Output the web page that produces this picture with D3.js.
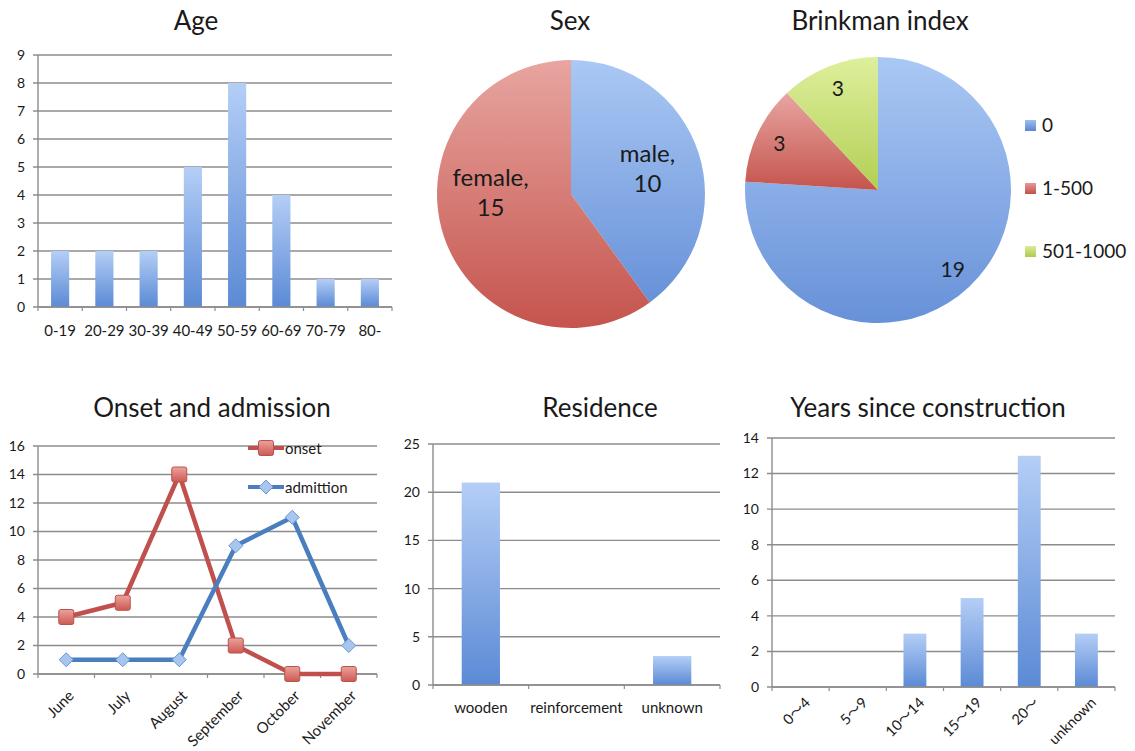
<!DOCTYPE html>
<html>
<head>
<meta charset="utf-8">
<script src="https://cdn.jsdelivr.net/npm/d3@7"></script>
<style>
  html, body { margin: 0; padding: 0; background: #fff; }
  svg { display: block; font-family: Lato, "Open Sans", "Noto Sans", "Noto Sans CJK JP", sans-serif; }
</style>
</head>
<body>
<svg id="chart" width="1135" height="751"></svg>
<script>
// ---- data ----
const ageCategories = ["0-19", "20-29", "30-39", "40-49", "50-59", "60-69", "70-79", "80-"];
const ageCounts = [2, 2, 2, 5, 8, 4, 1, 1];
const ageTicks = [0, 1, 2, 3, 4, 5, 6, 7, 8, 9];

const sexLabels = ["male", "female"];
const sexCounts = [10, 15];

const brinkmanLabels = ["0", "1-500", "501-1000"];
const brinkmanCounts = [19, 3, 3];

const months = ["June", "July", "August", "September", "October", "November"];
const onsetCounts = [4, 5, 14, 2, 0, 0];
const admissionCounts = [1, 1, 1, 9, 11, 2];
const monthTicks = [0, 2, 4, 6, 8, 10, 12, 14, 16];

const residenceCategories = ["wooden", "reinforcement", "unknown"];
const residenceCounts = [21, 0, 3];
const residenceTicks = [0, 5, 10, 15, 20, 25];

const yearsCategories = ["0\u301C4", "5\u301C9", "10\u301C14", "15\u301C19", "20\u301C", "unknown"];
const yearsCounts = [0, 0, 3, 5, 13, 3];
const yearsTicks = [0, 2, 4, 6, 8, 10, 12, 14];

// ---- setup ----
const svg = d3.select("#chart");
const defs = svg.append("defs");

function vGrad(id, top, bottom) {
  const g = defs.append("linearGradient").attr("id", id)
    .attr("x1", 0).attr("y1", 0).attr("x2", 0).attr("y2", 1);
  g.append("stop").attr("offset", "0%").attr("stop-color", top);
  g.append("stop").attr("offset", "100%").attr("stop-color", bottom);
}
vGrad("barBlue", "#b4cef6", "#5b8ad5");
vGrad("pieBlue", "#aac8f4", "#6791d8");
vGrad("pieRed", "#e8a5a1", "#c5544d");
vGrad("pieGreen", "#deef9c", "#b2cf55");
vGrad("sqRed", "#eca29d", "#cc5a53");
vGrad("legBlue", "#9fbff0", "#5b86cf");
vGrad("legRed", "#e99893", "#c24f49");
vGrad("legGreen", "#d9ec95", "#aeca52");

const gridColor = "#8c8c8c";
const textColor = "#1a1a1a";
const tickFont = 14;
const catFont = 15;

function title(x, y, text) {
  svg.append("text").attr("x", x).attr("y", y)
    .attr("text-anchor", "middle").attr("font-size", 26)
    .attr("fill", textColor).text(text);
}

// y axis with gridlines running across the plot
function drawYAxis(g, y, ticks, x0, x1) {
  g.append("g").selectAll("line").data(ticks).join("line")
    .attr("x1", x0 - 5).attr("x2", x1)
    .attr("y1", d => y(d)).attr("y2", d => y(d))
    .attr("stroke", gridColor).attr("stroke-width", 1.4);
  g.append("line").attr("x1", x0).attr("x2", x0)
    .attr("y1", y(ticks[ticks.length - 1])).attr("y2", y(0))
    .attr("stroke", gridColor).attr("stroke-width", 1.4);
  g.append("g").selectAll("text").data(ticks).join("text")
    .attr("x", x0 - 13).attr("y", d => y(d))
    .attr("dy", "0.35em").attr("text-anchor", "end")
    .attr("font-size", tickFont).attr("fill", textColor)
    .text(d => d);
}

// x axis: baseline with small ticks at category boundaries
function drawXBase(g, x0, x1, yBase, n) {
  g.append("line").attr("x1", x0).attr("x2", x1)
    .attr("y1", yBase).attr("y2", yBase)
    .attr("stroke", gridColor).attr("stroke-width", 1.4);
  const step = (x1 - x0) / n;
  g.append("g").selectAll("line").data(d3.range(n + 1)).join("line")
    .attr("x1", i => x0 + i * step).attr("x2", i => x0 + i * step)
    .attr("y1", yBase).attr("y2", yBase + 4)
    .attr("stroke", gridColor).attr("stroke-width", 1.2);
}

function barChart(opts) {
  const { cats, vals, ticks, x0, x1, yBase, yTop, padding, rotate, labelY } = opts;
  const g = svg.append("g");
  const x = d3.scaleBand().domain(cats).range([x0, x1]).paddingInner(padding).paddingOuter(padding / 2);
  const y = d3.scaleLinear().domain([0, ticks[ticks.length - 1]]).range([yBase, yTop]);
  drawYAxis(g, y, ticks, x0, x1);
  g.append("g").selectAll("rect").data(cats).join("rect")
    .attr("x", d => x(d)).attr("width", x.bandwidth())
    .attr("y", (d, i) => y(vals[i])).attr("height", (d, i) => yBase - y(vals[i]))
    .attr("fill", "url(#barBlue)");
  drawXBase(g, x0, x1, yBase, cats.length);
  const lab = g.append("g").selectAll("text").data(cats).join("text")
    .attr("fill", textColor).text(d => d);
  if (rotate) {
    lab.attr("text-anchor", "end").attr("font-size", 14.5)
      .attr("transform", d => `translate(${x(d) + x.bandwidth() / 2 + 7},${yBase + 13}) rotate(-45)`)
      .attr("dy", "0.35em");
  } else {
    lab.attr("text-anchor", "middle").attr("font-size", catFont)
      .attr("x", d => x(d) + x.bandwidth() / 2).attr("y", labelY).attr("dy", "0.35em");
  }
}

// ---- Age ----
title(196, 30, "Age");
barChart({ cats: ageCategories, vals: ageCounts, ticks: ageTicks,
  x0: 38, x1: 392, yBase: 307, yTop: 55, padding: 0.59, labelY: 331 });

// ---- Sex ----
title(570, 30, "Sex");
{
  const cx = 571, cy = 194, r = 134;
  const pie = d3.pie().sort(null).value(d => d)(sexCounts);
  const arc = d3.arc().innerRadius(0).outerRadius(r);
  const fills = ["url(#pieBlue)", "url(#pieRed)"];
  const g = svg.append("g").attr("transform", `translate(${cx},${cy})`);
  g.selectAll("path").data(pie).join("path")
    .attr("d", arc).attr("fill", (d, i) => fills[i]);
  // label placement: slice centroid, with the larger slice's label pulled toward horizontal
  const labelArc = d3.arc().innerRadius(r * 0.6).outerRadius(r * 0.6);
  const labelTilt = [0, 0.33];
  g.selectAll("text").data(pie).join("text")
    .attr("transform", (d, i) => {
      const a = (d.startAngle + d.endAngle) / 2 + labelTilt[i];
      const [lx, ly] = labelArc.centroid({ startAngle: a, endAngle: a });
      return `translate(${lx},${ly})`;
    })
    .attr("text-anchor", "middle").attr("font-size", 24).attr("fill", textColor)
    .each(function (d, i) {
      const t = d3.select(this);
      t.append("tspan").attr("x", 0).attr("dy", "-0.3em").text(sexLabels[i] + ",");
      t.append("tspan").attr("x", 0).attr("dy", "1.25em").text(sexCounts[i]);
    });
}

// ---- Brinkman index ----
title(880, 30, "Brinkman index");
{
  const cx = 878, cy = 190, r = 133;
  const pie = d3.pie().sort(null).value(d => d)(brinkmanCounts);
  const arc = d3.arc().innerRadius(0).outerRadius(r);
  const fills = ["url(#pieBlue)", "url(#pieRed)", "url(#pieGreen)"];
  const g = svg.append("g").attr("transform", `translate(${cx},${cy})`);
  g.selectAll("path").data(pie).join("path")
    .attr("d", arc).attr("fill", (d, i) => fills[i]);
  const labelArc = d3.arc().innerRadius(r * 0.82).outerRadius(r * 0.82);
  g.selectAll("text").data(pie).join("text")
    .attr("transform", d => `translate(${labelArc.centroid(d)})`)
    .attr("text-anchor", "middle").attr("dy", "0.35em")
    .attr("font-size", 21).attr("fill", textColor)
    .text(d => d.value);

  const legFills = ["url(#legBlue)", "url(#legRed)", "url(#legGreen)"];
  const leg = svg.append("g").selectAll("g").data(brinkmanLabels).join("g")
    .attr("transform", (d, i) => `translate(1025,${125 + i * 63})`);
  leg.append("rect").attr("x", 0).attr("y", -5).attr("width", 11).attr("height", 11)
    .attr("fill", (d, i) => legFills[i]);
  leg.append("text").attr("x", 17).attr("dy", "0.35em")
    .attr("font-size", 19).attr("fill", textColor).text(d => d);
}

// ---- Onset and admission ----
title(212, 417, "Onset and admission");
{
  const x0 = 38, x1 = 377, yBase = 674, yTop = 446;
  const g = svg.append("g");
  const x = d3.scalePoint().domain(months).range([x0, x1]).padding(0.5);
  const y = d3.scaleLinear().domain([0, 16]).range([yBase, yTop]);
  drawYAxis(g, y, monthTicks, x0, x1);
  drawXBase(g, x0, x1, yBase, months.length);

  const line = d3.line().x((d, i) => x(months[i])).y(d => y(d));
  const onsetColor = "#c0504d", admColor = "#4a7ebf";

  // onset series
  g.append("path").datum(onsetCounts).attr("d", line)
    .attr("fill", "none").attr("stroke", onsetColor).attr("stroke-width", 4.5)
    .attr("stroke-linejoin", "round");
  // admission series
  g.append("path").datum(admissionCounts).attr("d", line)
    .attr("fill", "none").attr("stroke", admColor).attr("stroke-width", 4.5)
    .attr("stroke-linejoin", "round");

  const square = (sel) => sel.append("rect")
    .attr("x", -7.5).attr("y", -7.5).attr("width", 15).attr("height", 15).attr("rx", 2)
    .attr("fill", "url(#sqRed)").attr("stroke", "#b9524c").attr("stroke-width", 1);
  const diamond = (sel) => sel.append("path")
    .attr("d", "M0,-7L7,0L0,7L-7,0Z")
    .attr("fill", "#a8c5ee").attr("stroke", "#6a97d6").attr("stroke-width", 1);

  g.append("g").selectAll("g").data(admissionCounts).join("g")
    .attr("transform", (d, i) => `translate(${x(months[i])},${y(d)})`)
    .call(diamond);
  g.append("g").selectAll("g").data(onsetCounts).join("g")
    .attr("transform", (d, i) => `translate(${x(months[i])},${y(d)})`)
    .call(square);

  // legend
  const legs = [
    { name: "onset", color: onsetColor, y: 448, marker: square },
    { name: "admittion", color: admColor, y: 487, marker: diamond }
  ];
  legs.forEach(L => {
    g.append("line").attr("x1", 248).attr("x2", 284).attr("y1", L.y).attr("y2", L.y)
      .attr("stroke", L.color).attr("stroke-width", 4);
    g.append("g").attr("transform", `translate(266,${L.y})`).call(L.marker);
    g.append("text").attr("x", 285).attr("y", L.y + 1).attr("dy", "0.35em")
      .attr("font-size", 15).attr("fill", textColor).text(L.name);
  });

  g.append("g").selectAll("text").data(months).join("text")
    .attr("text-anchor", "end").attr("font-size", catFont).attr("fill", textColor)
    .attr("dy", "0.35em")
    .attr("transform", d => `translate(${x(d) + 5},${yBase + 19}) rotate(-45)`)
    .text(d => d);
}

// ---- Residence ----
title(600, 417, "Residence");
barChart({ cats: residenceCategories, vals: residenceCounts, ticks: residenceTicks,
  x0: 433, x1: 720, yBase: 685, yTop: 444, padding: 0.6, labelY: 708 });

// ---- Years since construction ----
title(928, 417, "Years since construction");
barChart({ cats: yearsCategories, vals: yearsCounts, ticks: yearsTicks,
  x0: 772, x1: 1115, yBase: 687, yTop: 438, padding: 0.6, rotate: true });
</script>
</body>
</html>
